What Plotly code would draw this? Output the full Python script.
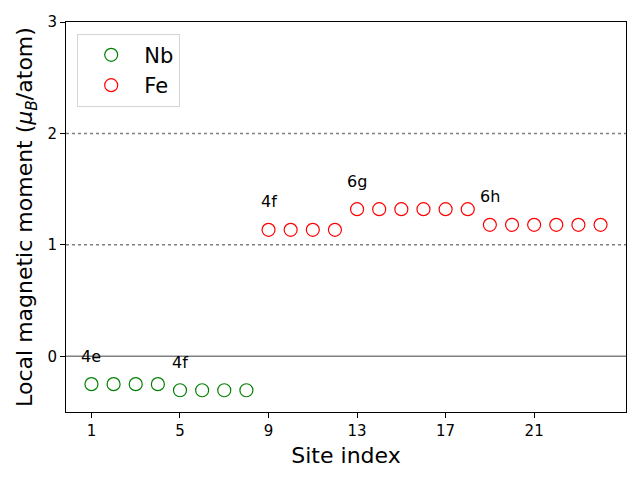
import plotly.graph_objects as go

# site indices and local moments (mu_B/atom)
nb_sites = [1, 2, 3, 4, 5, 6, 7, 8]
nb_moment = [-0.25, -0.25, -0.25, -0.25, -0.305, -0.305, -0.305, -0.305]
fe_sites = [9, 10, 11, 12, 13, 14, 15, 16, 17, 18, 19, 20, 21, 22, 23, 24]
fe_moment = [1.135, 1.135, 1.135, 1.135,
             1.32, 1.32, 1.32, 1.32, 1.32, 1.32,
             1.18, 1.18, 1.18, 1.18, 1.18, 1.18]

# Wyckoff labels: (x, y of site moment, text)
wyckoff_x = [1, 5, 9, 13, 19]
wyckoff_y = [-0.25, -0.305, 1.135, 1.32, 1.18]
wyckoff_txt = ["4e", "4f", "4f", "6g", "6h"]

xticks = [1, 5, 9, 13, 17, 21]
yticks = [0, 1, 2, 3]

fig = go.Figure()
fig.add_trace(go.Scatter(x=nb_sites, y=nb_moment, mode='markers', name='Nb',
                         marker=dict(symbol='circle-open', size=13, color='green',
                                     line=dict(width=1.2))))
fig.add_trace(go.Scatter(x=fe_sites, y=fe_moment, mode='markers', name='Fe',
                         marker=dict(symbol='circle-open', size=13, color='red',
                                     line=dict(width=1.2))))

fig.add_hline(y=0, line=dict(color='grey', width=1.5))
for yv in [1, 2]:
    fig.add_hline(y=yv, line=dict(color='grey', width=1.5, dash='dot'))

for x, y, t in zip(wyckoff_x, wyckoff_y, wyckoff_txt):
    fig.add_annotation(x=x, y=y + 0.25, text=t, showarrow=False,
                       font=dict(size=16, color='black'))

axis_common = dict(showline=True, linecolor='black', linewidth=1, mirror=True,
                   ticks='outside', ticklen=5, tickcolor='black',
                   showgrid=False, zeroline=False,
                   tickfont=dict(size=15, color='black'))

fig.update_xaxes(range=[-0.15, 25.15], tickvals=xticks,
                 title=dict(text='Site index', font=dict(size=22, color='black'), standoff=8),
                 **axis_common)
fig.update_yaxes(range=[-0.5, 3], tickvals=yticks,
                 title=dict(text='Local magnetic moment (<i>μ</i><sub><i>B</i></sub>/atom)',
                            font=dict(size=22, color='black'), standoff=8),
                 **axis_common)

# page body has an 8px margin, so the figure is shrunk and shifted to match
fig.update_layout(
    width=632, height=472,
    margin=dict(l=58, r=14, t=14, b=68, autoexpand=False),
    paper_bgcolor='white', plot_bgcolor='white',
    font=dict(family='DejaVu Sans', color='black'),
    showlegend=True,
    legend=dict(x=0.02, y=0.97, xanchor='left', yanchor='top',
                bordercolor='#d5d5d5', borderwidth=1, bgcolor='white',
                font=dict(size=21), itemwidth=56, tracegroupgap=0),
)

fig.write_html("out.html")
